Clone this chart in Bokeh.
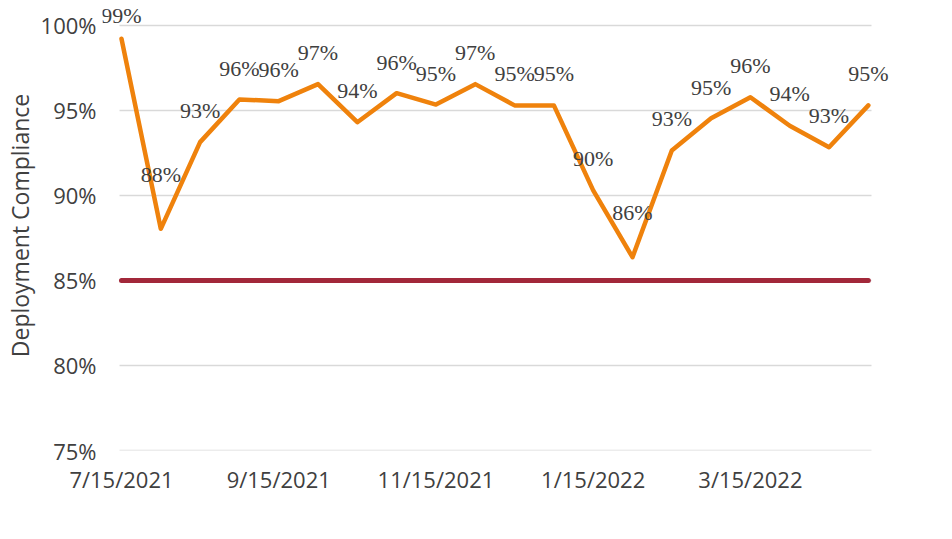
from bokeh.plotting import figure
from bokeh.models import (ColumnDataSource, LabelSet, FixedTicker, Range1d,
                          Legend, LegendItem)
from bokeh.embed import file_html
from bokeh.resources import INLINE

# ---- data ----
dates = ["7/15/2021", "8/1/2021", "8/15/2021", "9/1/2021", "9/15/2021",
         "10/1/2021", "10/15/2021", "11/1/2021", "11/15/2021", "12/1/2021",
         "12/15/2021", "1/1/2022", "1/15/2022", "2/1/2022", "2/15/2022",
         "3/1/2022", "3/15/2022", "4/1/2022", "4/15/2022", "5/1/2022"]
average_compliance = [99.22, 88.04, 93.14, 95.65, 95.55, 96.55, 94.31, 96.02,
                      95.35, 96.55, 95.3, 95.3, 90.3, 86.37, 92.65, 94.55,
                      95.78, 94.1, 92.84, 95.3]
required_compliance = [85.0] * len(dates)
y_ticks = [75, 80, 85, 90, 95, 100]
tick_every = 4
series_names = ["Average Deploment Compliance", "Required Compliance"]

# label vertical offsets in screen px (layout only)
label_dy = [23, 54, 32, 31, 32, 32, 32, 31, 31, 32,
            32, 32, 32, 45, 32, 31, 32, 32, 32, 32]

FONT = "Open Sans"
TXT = "#404040"
ORANGE = "#EF820C"
RED = "#A2283A"
GRID = "#D9D9D9"

x = list(range(len(dates)))
n = len(dates)
src = ColumnDataSource(dict(
    x=x, avg=average_compliance, req=required_compliance,
    lab=[f"{v:.0f}%" for v in average_compliance],
    dy=label_dy,
))

# plot-area extent (grid lines) vs. wider drawing frame (so labels are not clipped)
X0, X1 = -0.05, n - 1 + 0.08
p = figure(width=952, height=539, output_backend="svg", toolbar_location=None,
           x_range=Range1d(-0.483, n - 1 + 2.09),
           y_range=Range1d(75, 101.47))
p.frame_width = 848
p.frame_height = 450
p.min_border_left = 102
p.min_border_right = 2
p.min_border_top = 0
p.min_border_bottom = 0
p.outline_line_color = None
p.background_fill_color = "white"
p.border_fill_color = "white"

p.xgrid.grid_line_color = None
p.ygrid.grid_line_color = None
p.segment(x0=[X0] * len(y_ticks), x1=[X1] * len(y_ticks), y0=y_ticks,
          y1=y_ticks, line_color=GRID, line_width=1.5)

r_avg = p.line("x", "avg", source=src, line_color=ORANGE, line_width=4.5,
               line_join="round", line_cap="round")
r_req = p.line("x", "req", source=src, line_color=RED, line_width=5,
               line_join="round", line_cap="round")

labels = LabelSet(x="x", y="avg", text="lab", source=src, y_offset="dy",
                  text_align="center", text_baseline="middle",
                  text_font=FONT, text_font_size="22px", text_color=TXT)
p.add_layout(labels)

# axes
p.xaxis.ticker = FixedTicker(ticks=x[::tick_every])
p.xaxis.major_label_overrides = {i: dates[i] for i in x[::tick_every]}
p.xaxis.axis_line_color = None
p.xaxis.major_tick_line_color = None
p.xaxis.minor_tick_line_color = None
p.xaxis.major_label_text_font = FONT
p.xaxis.major_label_text_font_size = "22px"
p.xaxis.major_label_text_color = TXT
p.xaxis.major_label_standoff = 7
# blank spacer between tick labels and legend
p.xaxis.axis_label = " "
p.xaxis.axis_label_text_font = FONT
p.xaxis.axis_label_text_font_size = "19px"
p.xaxis.axis_label_standoff = 0

p.yaxis.ticker = FixedTicker(ticks=y_ticks)
p.yaxis.major_label_overrides = {v: f"{v}%" for v in y_ticks}
p.yaxis.axis_line_color = None
p.yaxis.major_tick_line_color = None
p.yaxis.minor_tick_line_color = None
p.yaxis.major_label_text_font = FONT
p.yaxis.major_label_text_font_size = "22px"
p.yaxis.major_label_text_color = TXT
p.yaxis.major_label_standoff = 0
p.yaxis.axis_label = "Deployment Compliance"
p.yaxis.axis_label_text_font = FONT
p.yaxis.axis_label_text_font_size = "23px"
p.yaxis.axis_label_text_font_style = "normal"
p.yaxis.axis_label_text_color = TXT
p.yaxis.axis_label_standoff = 2

legend = Legend(items=[
    LegendItem(label=series_names[0], renderers=[r_avg]),
    LegendItem(label=series_names[1], renderers=[r_req]),
], orientation="horizontal", location="top_right", spacing=68,
    glyph_width=55, label_standoff=4, padding=0, margin=0,
    border_line_color=None, background_fill_alpha=0,
    label_text_font=FONT, label_text_font_size="20px", label_text_color=TXT)
p.add_layout(legend, "below")

open("out.html", "w").write(file_html(p, INLINE))
